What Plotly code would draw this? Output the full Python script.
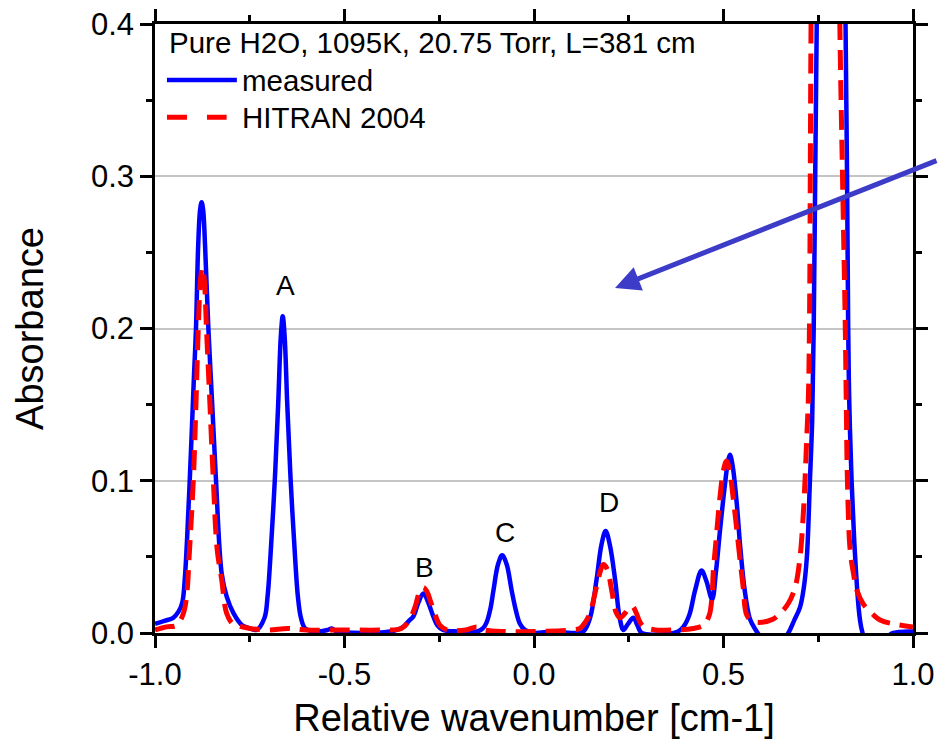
import plotly.graph_objects as go

# ---- data ----
measured_x = [-1.000, -0.975, -0.952, -0.938, -0.928, -0.921, -0.912, -0.905, -0.897, -0.892,
              -0.886, -0.881, -0.877, -0.873, -0.868, -0.859, -0.849, -0.839, -0.824, -0.811,
              -0.793, -0.770, -0.749, -0.732, -0.711, -0.703, -0.696, -0.684, -0.675, -0.668,
              -0.663, -0.658, -0.651, -0.642, -0.630, -0.623, -0.615, -0.604, -0.580, -0.545,
              -0.534, -0.520, -0.450, -0.380, -0.362, -0.345, -0.330, -0.318, -0.305, -0.292,
              -0.279, -0.266, -0.255, -0.240, -0.200, -0.150, -0.135, -0.125, -0.115, -0.107,
              -0.095, -0.084, -0.072, -0.059, -0.048, -0.037, -0.024, 0.000, 0.050, 0.100,
              0.130, 0.148, 0.165, 0.178, 0.189, 0.200, 0.214, 0.226, 0.236, 0.248,
              0.262, 0.273, 0.284, 0.330, 0.380, 0.394, 0.410, 0.425, 0.442, 0.455,
              0.470, 0.480, 0.491, 0.504, 0.512, 0.517, 0.524, 0.535, 0.544, 0.556,
              0.570, 0.585, 0.596, 0.620, 0.650, 0.671, 0.686, 0.702, 0.712, 0.720,
              0.728, 0.734, 0.738, 0.742, 0.746, 0.752, 0.785, 0.818, 0.822, 0.826,
              0.829, 0.832, 0.838, 0.845, 0.851, 0.858, 0.865, 0.880, 0.910, 0.948,
              1.000]
measured_y = [0.006, 0.008, 0.010, 0.014, 0.020, 0.037, 0.080, 0.120, 0.170, 0.199,
              0.255, 0.278, 0.283, 0.278, 0.255, 0.199, 0.150, 0.100, 0.039, 0.024,
              0.013, 0.005, 0.003, 0.002, 0.010, 0.024, 0.048, 0.100, 0.150, 0.195,
              0.208, 0.195, 0.150, 0.100, 0.048, 0.024, 0.010, 0.003, 0.001, 0.002,
              0.003, 0.001, 0.000, 0.001, 0.002, 0.004, 0.008, 0.011, 0.020, 0.026,
              0.020, 0.011, 0.005, 0.002, 0.001, 0.001, 0.003, 0.007, 0.016, 0.028,
              0.045, 0.051, 0.045, 0.028, 0.015, 0.006, 0.002, 0.000, 0.001, 0.000,
              0.001, 0.010, 0.035, 0.058, 0.067, 0.058, 0.035, 0.010, 0.002, 0.006,
              0.010, 0.005, 0.000, -0.001, 0.001, 0.004, 0.012, 0.028, 0.041, 0.034,
              0.022, 0.040, 0.068, 0.098, 0.113, 0.117, 0.110, 0.085, 0.057, 0.028,
              0.009, 0.002, -0.002, -0.008, -0.006, 0.000, 0.008, 0.017, 0.030, 0.050,
              0.100, 0.140, 0.200, 0.300, 0.400, 0.550, 0.700, 0.550, 0.400, 0.300,
              0.200, 0.150, 0.100, 0.060, 0.035, 0.013, 0.002, -0.008, -0.006, 0.000,
              0.001]

hitran_x = [-1.000, -0.970, -0.943, -0.925, -0.916, -0.910, -0.899, -0.892, -0.886, -0.880,
            -0.875, -0.870, -0.864, -0.855, -0.846, -0.836, -0.824, -0.811, -0.795, -0.784,
            -0.749, -0.700, -0.650, -0.600, -0.500, -0.400, -0.350, -0.330, -0.314, -0.302,
            -0.292, -0.282, -0.272, -0.261, -0.248, -0.230, -0.180, -0.151, -0.130, -0.080,
            0.000, 0.100, 0.121, 0.135, 0.148, 0.160, 0.172, 0.183, 0.193, 0.205,
            0.216, 0.227, 0.240, 0.252, 0.260, 0.270, 0.280, 0.290, 0.320, 0.368,
            0.420, 0.447, 0.458, 0.464, 0.470, 0.473, 0.480, 0.491, 0.500, 0.508,
            0.516, 0.525, 0.535, 0.545, 0.552, 0.561, 0.575, 0.600, 0.630, 0.650,
            0.670, 0.689, 0.702, 0.711, 0.715, 0.720, 0.724, 0.727, 0.729, 0.731,
            0.737, 0.770, 0.802, 0.807, 0.814, 0.821, 0.824, 0.827, 0.834, 0.843,
            0.852, 0.869, 0.895, 0.913, 0.948, 1.000]
hitran_y = [0.002, 0.004, 0.005, 0.013, 0.026, 0.050, 0.100, 0.150, 0.199, 0.232,
            0.240, 0.232, 0.199, 0.150, 0.100, 0.055, 0.035, 0.013, 0.006, 0.005,
            0.003, 0.002, 0.003, 0.002, 0.002, 0.002, 0.003, 0.008, 0.017, 0.027,
            0.030, 0.027, 0.020, 0.012, 0.005, 0.002, 0.002, 0.004, 0.002, 0.001,
            0.001, 0.002, 0.003, 0.007, 0.013, 0.025, 0.038, 0.045, 0.042, 0.028,
            0.014, 0.010, 0.013, 0.017, 0.0175, 0.013, 0.007, 0.004, 0.002, 0.002,
            0.003, 0.005, 0.009, 0.013, 0.025, 0.040, 0.060, 0.090, 0.107, 0.113,
            0.107, 0.090, 0.068, 0.045, 0.030, 0.012, 0.008, 0.007, 0.009, 0.013,
            0.019, 0.030, 0.050, 0.080, 0.100, 0.130, 0.155, 0.206, 0.300, 0.400,
            0.550, 0.700, 0.550, 0.400, 0.300, 0.206, 0.150, 0.100, 0.055, 0.039,
            0.028, 0.019, 0.012, 0.0085, 0.006, 0.004]

peak_labels = ["A", "B", "C", "D"]
peak_label_x = [-0.657, -0.288, -0.0765, 0.198]
peak_label_y = [0.228, 0.0427, 0.066, 0.0854]

legend_title = "Pure H2O, 1095K, 20.75 Torr, L=381 cm"
series_names = ["measured", "HITRAN 2004"]
x_ticks = [-1.0, -0.5, 0.0, 0.5, 1.0]
x_tick_text = ["-1.0", "-0.5", "0.0", "0.5", "1.0"]
y_ticks = [0.0, 0.1, 0.2, 0.3, 0.4]
y_tick_text = ["0.0", "0.1", "0.2", "0.3", "0.4"]

FONT = "Liberation Sans, Arial, sans-serif"
BLUE = "#0000FF"
RED = "#FF0000"

fig = go.Figure()
fig.add_trace(go.Scatter(x=measured_x, y=measured_y, mode="lines", name=series_names[0],
                         line=dict(color=BLUE, width=4.5, shape="spline", smoothing=1.0)))
fig.add_trace(go.Scatter(x=hitran_x, y=hitran_y, mode="lines", name=series_names[1],
                         line=dict(color=RED, width=5, dash="20px,10px", shape="spline", smoothing=1.0)))

for t, lx, ly in zip(peak_labels, peak_label_x, peak_label_y):
    fig.add_annotation(x=lx, y=ly, xref="x", yref="y", text=t, showarrow=False,
                       font=dict(family=FONT, size=28, color="black"),
                       xanchor="center", yanchor="middle")

# manual legend (long line samples like the original)
fig.add_annotation(x=0.0158, y=0.969, xref="paper", yref="paper", text=legend_title,
                   showarrow=False, xanchor="left", yanchor="middle",
                   font=dict(family=FONT, size=29.5, color="black"))
fig.add_shape(type="line", xref="paper", yref="paper", x0=0.0158, x1=0.108, y0=0.908, y1=0.908,
              line=dict(color=BLUE, width=4.5))
fig.add_annotation(x=0.112, y=0.908, xref="paper", yref="paper", text=series_names[0],
                   showarrow=False, xanchor="left", yanchor="middle",
                   font=dict(family=FONT, size=29.5, color="black"))
fig.add_shape(type="line", xref="paper", yref="paper", x0=0.0158, x1=0.0945, y0=0.847, y1=0.847,
              line=dict(color=RED, width=5, dash="20px,20px"))
fig.add_annotation(x=0.112, y=0.847, xref="paper", yref="paper", text=series_names[1],
                   showarrow=False, xanchor="left", yanchor="middle",
                   font=dict(family=FONT, size=29.5, color="black"))

# arrow
fig.add_annotation(x=0.6069, y=0.5665, xref="paper", yref="paper", text="",
                   showarrow=True, ax=345, ay=-128, axref="pixel", ayref="pixel",
                   arrowcolor="#3C3CC8", arrowwidth=5, arrowhead=2, arrowsize=1.0)

axis_common = dict(showline=True, linecolor="black", linewidth=2.5, mirror="ticks",
                   ticks="outside", ticklen=12, tickwidth=2.5, tickcolor="black",
                   tickfont=dict(family=FONT, size=31, color="black"), zeroline=False,
                   automargin=False)

fig.update_xaxes(range=[-1.0, 1.0], tickvals=x_ticks, ticktext=x_tick_text, showgrid=False,
                 minor=dict(dtick=0.25, tick0=-1.0, ticks="outside", ticklen=6, tickwidth=2.5,
                            tickcolor="black", showgrid=False),
                 title=dict(text="Relative wavenumber [cm-1]", standoff=14,
                            font=dict(family=FONT, size=38, color="black")),
                 **axis_common)
fig.update_yaxes(range=[0.0, 0.4], tickvals=y_ticks, ticktext=y_tick_text, showgrid=True,
                 gridcolor="#C4C4C4", gridwidth=2,
                 minor=dict(dtick=0.05, tick0=0.0, ticks="outside", ticklen=6, tickwidth=2.5,
                            tickcolor="black", showgrid=False),
                 title=dict(text="Absorbance", standoff=36,
                            font=dict(family=FONT, size=38, color="black")),
                 **axis_common)

fig.update_layout(width=938, height=743, showlegend=False,
                  plot_bgcolor="white", paper_bgcolor="white",
                  margin=dict(l=155, r=25, t=24, b=110),
                  font=dict(family=FONT, color="black"))

fig.write_html("out.html", config={"displayModeBar": False},
               post_script="document.body.style.margin='0';document.body.style.overflow='hidden';")
